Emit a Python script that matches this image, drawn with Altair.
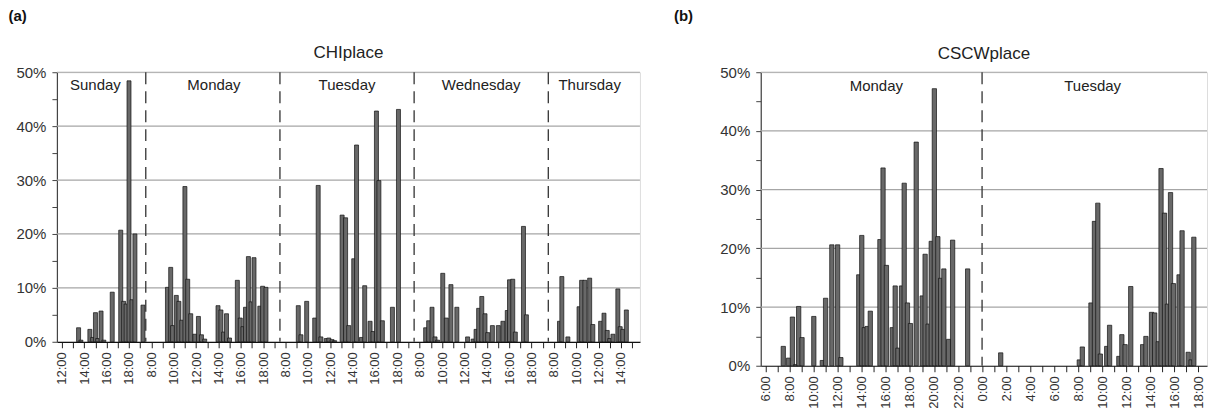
import json
import altair as alt
import pandas as pd

# ---------------- data (values in %) ----------------
# (a) CHIplace -- hour of day of each bar, per day
chi_sun_hour = [13.49, 13.7, 14.5, 14.75, 15.0, 15.2, 15.5, 15.75, 16.5, 17.26, 17.52, 17.74, 18.0, 18.27, 18.53, 19.25]
chi_sun_val = [2.6, 0.3, 2.3, 0.8, 5.4, 0.6, 5.7, 0.3, 9.2, 20.7, 7.5, 7.0, 48.4, 7.8, 20.0, 6.8]

chi_mon_hour = [9.44, 9.73, 9.9, 10.23, 10.46, 10.72, 11.0, 11.25, 11.52, 11.89, 12.21, 12.48, 12.77,
                13.96, 14.22, 14.46, 14.72, 14.99, 15.69, 15.95, 16.19, 16.42, 16.68, 16.92, 17.18,
                17.7, 17.95, 18.25]
chi_mon_val = [10.1, 13.8, 3.0, 8.6, 7.5, 4.0, 28.8, 11.6, 5.2, 1.4, 4.7, 1.3, 0.5,
               6.7, 5.9, 1.8, 5.2, 0.7, 11.4, 4.4, 2.8, 6.4, 15.8, 7.4, 15.6,
               6.6, 10.3, 10.1]

chi_tue_hour = [9.14, 9.38, 9.89, 10.61, 10.92, 11.16, 11.64, 11.87, 12.16, 12.39, 13.06, 13.37,
                13.65, 14.1, 14.35, 14.79, 15.08, 15.56, 15.82, 16.13, 16.35, 16.66, 17.56, 18.1]
chi_tue_val = [6.7, 1.3, 7.5, 4.4, 29.0, 0.9, 0.6, 0.7, 0.4, 0.2, 23.5, 23.0,
               3.0, 15.4, 36.5, 0.8, 10.4, 3.8, 1.9, 42.8, 29.9, 3.9, 6.4, 43.1]

chi_wed_hour = [8.53, 8.8, 9.1, 9.37, 9.6, 10.06, 10.38, 10.79, 11.32, 12.28, 12.78, 13.04, 13.27,
                13.55, 13.84, 14.08, 14.5, 15.03, 15.44, 15.83, 16.03, 16.32, 16.55, 17.28, 17.54]
chi_wed_val = [2.6, 3.9, 6.4, 0.9, 0.3, 12.7, 4.4, 10.6, 6.4, 0.9, 0.5, 2.3, 6.2,
               8.4, 5.2, 1.7, 3.0, 3.0, 3.8, 5.8, 11.5, 11.6, 1.8, 21.4, 5.0]

chi_thu_hour = [8.5, 8.71, 9.25, 10.25, 10.48, 10.77, 11.2, 11.48, 12.18, 12.48, 12.77, 12.99,
                13.28, 13.72, 13.93, 14.16, 14.48]
chi_thu_val = [3.8, 12.1, 0.9, 6.5, 11.4, 11.4, 11.8, 3.2, 3.8, 5.3, 2.1, 0.6,
               1.4, 9.8, 2.8, 2.3, 5.9]

chi_days = ["Sunday", "Monday", "Tuesday", "Wednesday", "Thursday"]
chi_day_first_hour = [12, 8, 8, 8, 8]
chi_day_label_pos = [3.0, 13.6, 25.5, 37.5, 47.2]
chi_dividers = [7.5, 19.5, 31.5, 43.5]
chi_tick_labels = (["12:00", "", "14:00", "", "16:00", "", "18:00", ""]
                   + ["8:00", "", "10:00", "", "12:00", "", "14:00", "", "16:00", "", "18:00", ""] * 3
                   + ["8:00", "", "10:00", "", "12:00", "", "14:00", ""])

# (b) CSCWplace -- hour of day of each bar, per day
cscw_mon_hour = [7.46, 7.9, 8.22, 8.49, 8.74, 9.02, 10.0, 10.71, 10.98, 11.5, 11.98, 12.25,
                 13.74, 13.99, 14.2, 14.44, 14.7, 15.5, 15.76, 16.04, 16.53, 16.77, 17.0, 17.3,
                 17.52, 17.79, 18.04, 18.52, 19.02, 19.26, 19.51, 19.77, 20.03, 20.32, 20.55,
                 20.82, 21.22, 21.55, 22.8]
cscw_mon_val = [3.3, 1.3, 8.3, 0.2, 10.1, 4.8, 8.4, 0.9, 11.5, 20.6, 20.6, 1.4,
                15.5, 22.2, 6.5, 6.7, 9.3, 21.5, 33.7, 17.1, 6.5, 13.6, 3.0, 13.6,
                31.1, 10.7, 7.2, 38.1, 11.9, 19.0, 7.1, 21.2, 47.2, 22.0, 14.9,
                16.5, 4.5, 21.4, 16.5]
cscw_tue_hour = [1.55, 8.09, 8.34, 9.06, 9.35, 9.63, 9.84, 10.37, 10.61, 11.38, 11.63, 11.9,
                 12.37, 13.36, 13.63, 14.1, 14.36, 14.66, 14.89, 15.18, 15.42, 15.68, 15.92,
                 16.39, 16.64, 17.15, 17.39, 17.62]
cscw_tue_val = [2.2, 1.0, 3.2, 10.7, 24.6, 27.7, 2.0, 3.3, 6.9, 1.6, 5.3, 3.6,
                13.5, 3.6, 5.0, 9.1, 9.0, 4.1, 33.6, 26.0, 10.5, 29.5, 14.0,
                15.5, 23.0, 2.3, 1.0, 21.9]
cscw_days = ["Monday", "Tuesday"]
cscw_day_label_pos = [15.2, 33.2]
cscw_dividers = [24]
cscw_tick_labels = ["6:00", "", "8:00", "", "10:00", "", "12:00", "", "14:00", "", "16:00", "",
                    "18:00", "", "20:00", "", "22:00", "", "0:00", "", "2:00", "", "4:00", "",
                    "6:00", "", "8:00", "", "10:00", "", "12:00", "", "14:00", "", "16:00", "",
                    "18:00"]

y_tick_values = [0, 0.05, 0.1, 0.15, 0.2, 0.25, 0.3, 0.35, 0.4, 0.45, 0.5]
y_tick_labels = ["0%", "", "10%", "", "20%", "", "30%", "", "40%", "", "50%"]
grid_values = [0.1, 0.2, 0.3, 0.4, 0.5]

FONT = "Liberation Sans"

# ---------------- build tables ----------------
chi_rows = []
chi_series = [(chi_sun_hour, chi_sun_val), (chi_mon_hour, chi_mon_val), (chi_tue_hour, chi_tue_val),
              (chi_wed_hour, chi_wed_val), (chi_thu_hour, chi_thu_val)]
day_start = 0
for i, (hours, vals) in enumerate(chi_series):
    first = chi_day_first_hour[i]
    for h, v in zip(hours, vals):
        chi_rows.append({"pos": day_start + (h - first), "v": v / 100})
    day_start += 8 if i == 0 else 12
chi_df = pd.DataFrame(chi_rows)

cscw_rows = [{"pos": h, "v": v / 100} for h, v in zip(cscw_mon_hour, cscw_mon_val)]
cscw_rows += [{"pos": 24 + h, "v": v / 100} for h, v in zip(cscw_tue_hour, cscw_tue_val)]
cscw_df = pd.DataFrame(cscw_rows)


def panel(df, x_domain, width, height, first_tick, tick_labels, dividers, days, day_pos,
          title, tag, tag_x, tag_y, title_y, bar_w):
    xs = alt.Scale(domain=x_domain, nice=False, zero=False)
    ys = alt.Scale(domain=[0, 0.5], nice=False)
    tick_vals = [first_tick + i for i in range(len(tick_labels))]
    x_expr = json.dumps(tick_labels) + "[round(datum.value - (%d))]" % first_tick
    y_expr = json.dumps(y_tick_labels) + "[round(datum.value * 20)]"

    x_axis = alt.Axis(
        values=tick_vals, labelExpr=x_expr, labelAngle=270, title=None, grid=False,
        tickSize=6, tickColor="#222222", domainColor="#111111", domainWidth=1.2,
        labelColor="#333333", labelFont=FONT, labelFontSize=13, labelPadding=4,
        labelOverlap=False, labelBound=False, labelFlush=False)
    y_axis = alt.Axis(
        values=y_tick_values, labelExpr=y_expr, title=None, grid=False,
        tickSize=5, tickColor="#444444", domainColor="#444444", domainWidth=1.2,
        labelColor="#333333", labelFont=FONT, labelFontSize=15, labelPadding=6,
        labelOverlap=False)

    grid = alt.Chart(pd.DataFrame({"g": grid_values})).mark_rule(
        color="#a6a6a6", strokeWidth=1.2
    ).encode(y=alt.Y("g:Q", scale=ys, axis=y_axis))

    bars = alt.Chart(df).mark_bar(
        width=bar_w, color="#686868", stroke="#111111", strokeWidth=0.7
    ).encode(
        x=alt.X("pos:Q", scale=xs, axis=x_axis),
        y=alt.Y("v:Q", scale=ys, axis=y_axis),
    )

    divs = alt.Chart(pd.DataFrame({"d": dividers})).mark_rule(
        color="#333333", strokeWidth=1.3, strokeDash=[12, 7]
    ).encode(x=alt.X("d:Q", scale=xs, axis=x_axis))

    day_text = alt.Chart(pd.DataFrame({"day": days, "p": day_pos, "y": [0.477] * len(days)})).mark_text(
        font=FONT, fontSize=15, color="#222222", baseline="middle"
    ).encode(x=alt.X("p:Q", scale=xs, axis=x_axis), y=alt.Y("y:Q", scale=ys, axis=y_axis), text="day:N")

    title_text = alt.Chart(pd.DataFrame({"t": [title]})).mark_text(
        font=FONT, fontSize=17, color="#222222", baseline="middle"
    ).encode(x=alt.value(width / 2), y=alt.value(title_y), text="t:N")

    tag_text = alt.Chart(pd.DataFrame({"t": [tag]})).mark_text(
        font=FONT, fontSize=15, fontWeight="bold", color="#111111", align="left", baseline="top"
    ).encode(x=alt.value(tag_x), y=alt.value(tag_y), text="t:N")

    return alt.layer(grid, bars, divs, day_text, title_text, tag_text).properties(
        width=width, height=height)


left = panel(chi_df, [0, 51.25], 584, 270, 0, chi_tick_labels, chi_dividers, chi_days,
             chi_day_label_pos, "CHIplace", "(a)", -48.5, -63, -19, 4)
right = panel(cscw_df, [6, 42.3], 447, 294, 6, cscw_tick_labels, cscw_dividers, cscw_days,
              cscw_day_label_pos, "CSCWplace", "(b)", -87, -63, -18, 4.3)

chart = alt.hconcat(left, right, spacing=31).properties(padding=0).configure_view(
    stroke="#9a9a9a", strokeWidth=1
).configure(background="white")

chart.save("out.html", embed_options={"renderer": "svg", "actions": False})
